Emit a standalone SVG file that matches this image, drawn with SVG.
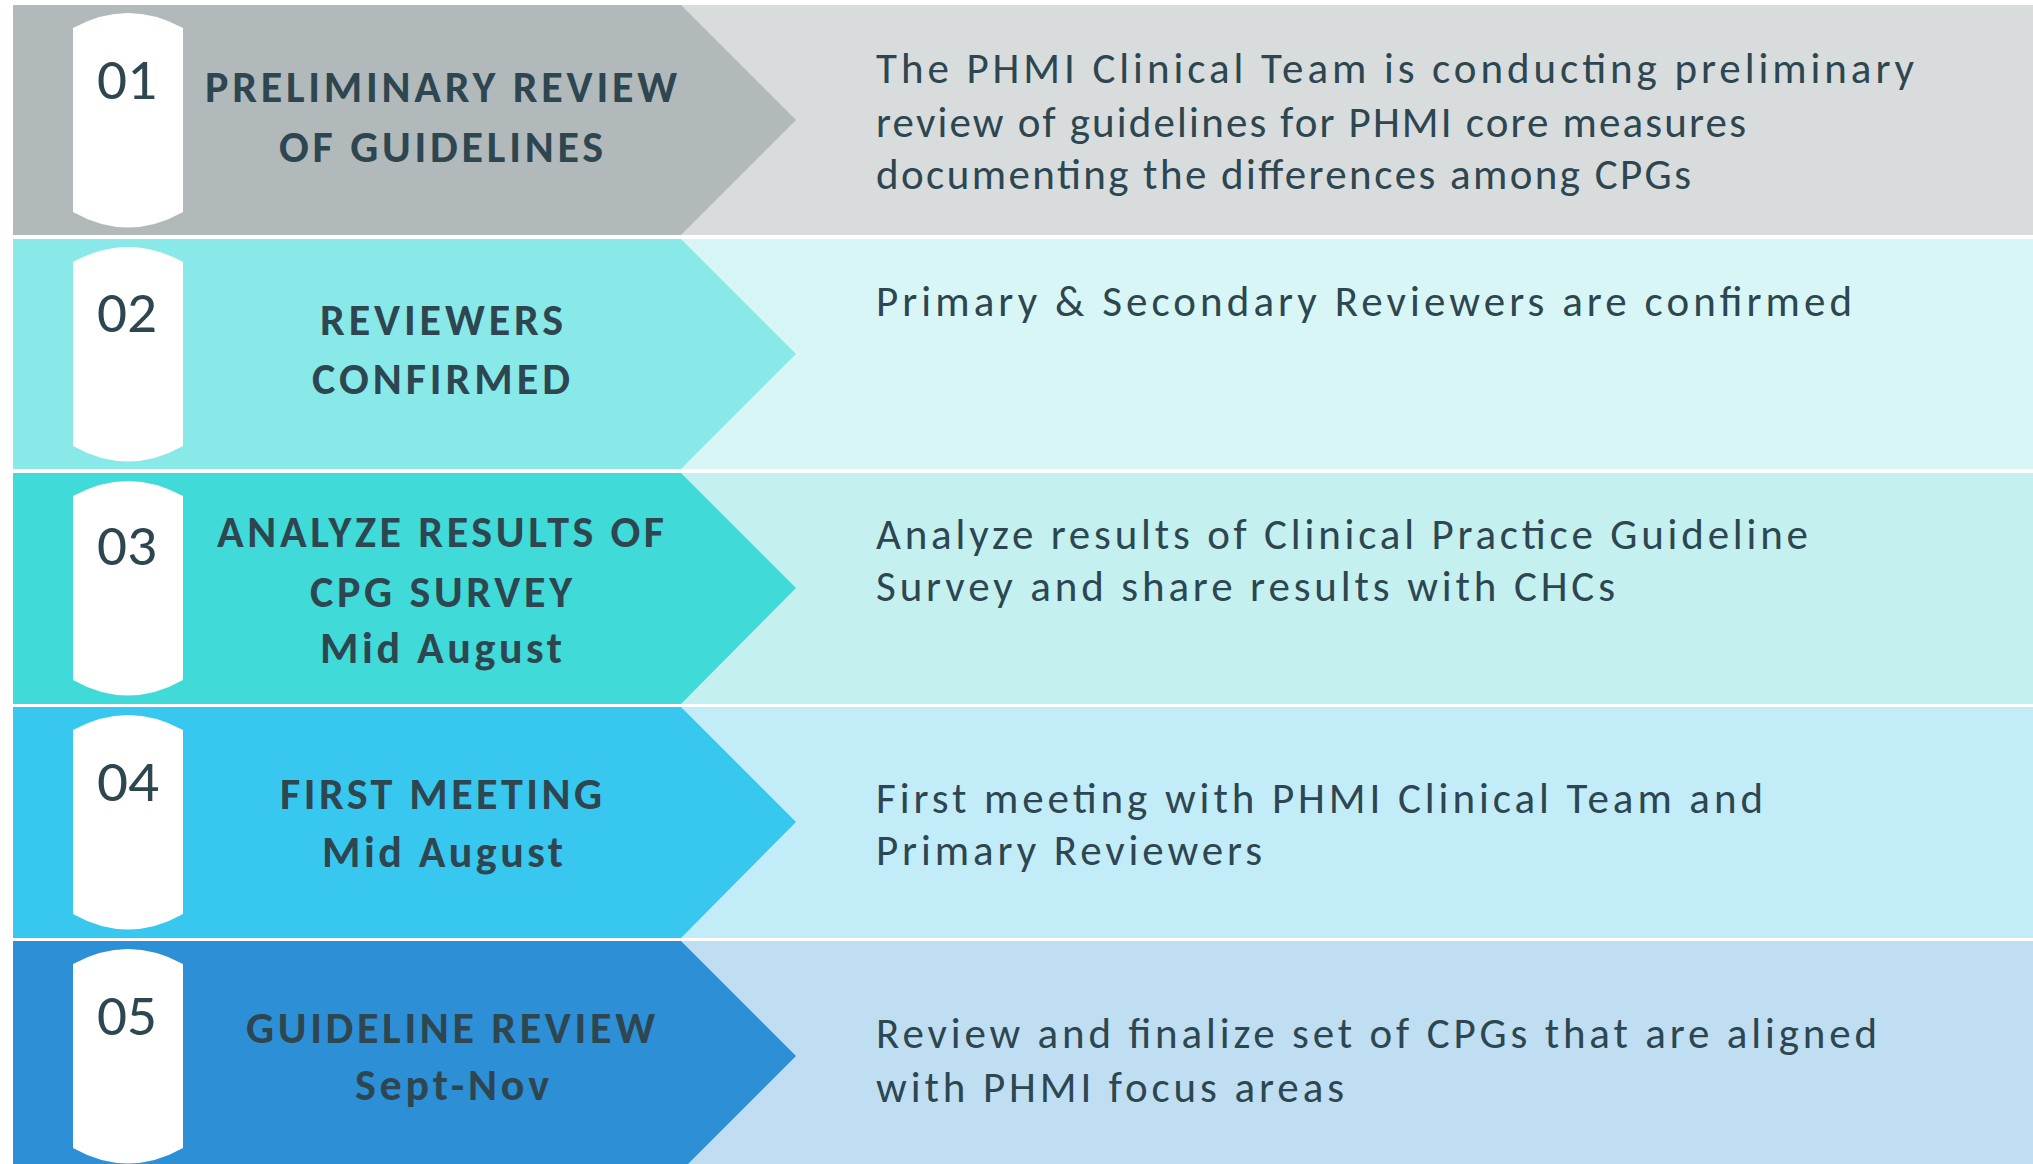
<svg xmlns="http://www.w3.org/2000/svg" width="2033" height="1164" viewBox="0 0 2033 1164">
<style>
.num{font-family:Carlito,Lato,"Open Sans",sans-serif;font-weight:300;font-size:58px;fill:#2d4650}
.ttl{font-family:Carlito,Lato,"Open Sans",sans-serif;font-weight:700;font-size:44px;fill:#2d4650}
.dsc{font-family:Carlito,Lato,"Open Sans",sans-serif;font-weight:400;font-size:43px;fill:#2d4650}
.pill{fill:#ffffff}
</style>
<defs>
<path id="pillShape" d="M73,23 Q128,-7 183,23 L183,207 Q128,238 73,207 Z"/>
</defs>
<rect x="0" y="0" width="2033" height="1164" fill="#ffffff"/>

<g id="step01" transform="translate(0,5)">
<rect x="13" y="0" width="2020" height="230" fill="#d8dcdd"/>
<polygon points="13,0 681,0 796,115 681,230 13,230" fill="#b1b9bb"/>
<use href="#pillShape" class="pill"/>
<text class="num" x="97" y="94" textLength="60" lengthAdjust="spacingAndGlyphs">01</text>
<text class="ttl" x="205" y="97" textLength="472" lengthAdjust="spacing">PRELIMINARY REVIEW</text>
<text class="ttl" x="279" y="157" textLength="324" lengthAdjust="spacing">OF GUIDELINES</text>
<text class="dsc" x="876" y="78" textLength="1038" lengthAdjust="spacing">The PHMI Clinical Team is conducting preliminary</text>
<text class="dsc" x="876" y="132" textLength="870" lengthAdjust="spacing">review of guidelines for PHMI core measures</text>
<text class="dsc" x="876" y="184" textLength="815" lengthAdjust="spacing">documenting the differences among CPGs</text>
</g>

<g id="step02" transform="translate(0,239)">
<rect x="13" y="0" width="2020" height="230" fill="#d9f6f7"/>
<polygon points="13,0 681,0 796,115 681,230 13,230" fill="#88e9e8"/>
<use href="#pillShape" class="pill"/>
<text class="num" x="97" y="93" textLength="60" lengthAdjust="spacingAndGlyphs">02</text>
<text class="ttl" x="320" y="96" textLength="243" lengthAdjust="spacing">REVIEWERS</text>
<text class="ttl" x="312" y="155" textLength="258" lengthAdjust="spacing">CONFIRMED</text>
<text class="dsc" x="876" y="77" textLength="976" lengthAdjust="spacing">Primary &amp; Secondary Reviewers are confirmed</text>
</g>

<g id="step03" transform="translate(0,473)">
<rect x="13" y="0" width="2020" height="231" fill="#c4f0f0"/>
<polygon points="13,0 681,0 796,115 681,231 13,231" fill="#40dad8"/>
<use href="#pillShape" class="pill"/>
<text class="num" x="97" y="92" textLength="60" lengthAdjust="spacingAndGlyphs">03</text>
<text class="ttl" x="217" y="74" textLength="447" lengthAdjust="spacing">ANALYZE RESULTS OF</text>
<text class="ttl" x="310" y="134" textLength="262" lengthAdjust="spacing">CPG SURVEY</text>
<text class="ttl" x="320" y="190" textLength="242" lengthAdjust="spacing">Mid August</text>
<text class="dsc" x="876" y="76" textLength="932" lengthAdjust="spacing">Analyze results of Clinical Practice Guideline</text>
<text class="dsc" x="876" y="128" textLength="739" lengthAdjust="spacing">Survey and share results with CHCs</text>
</g>

<g id="step04" transform="translate(0,707)">
<rect x="13" y="0" width="2020" height="231" fill="#c3ecf9"/>
<polygon points="13,0 681,0 796,115 681,231 13,231" fill="#38c8ef"/>
<use href="#pillShape" class="pill"/>
<text class="num" x="97" y="94" textLength="62" lengthAdjust="spacingAndGlyphs">04</text>
<text class="ttl" x="280" y="102" textLength="322" lengthAdjust="spacing">FIRST MEETING</text>
<text class="ttl" x="322" y="160" textLength="241" lengthAdjust="spacing">Mid August</text>
<text class="dsc" x="876" y="106" textLength="887" lengthAdjust="spacing">First meeting with PHMI Clinical Team and</text>
<text class="dsc" x="876" y="158" textLength="386" lengthAdjust="spacing">Primary Reviewers</text>
</g>

<g id="step05" transform="translate(0,941)">
<rect x="13" y="0" width="2020" height="230" fill="#bfdef2"/>
<polygon points="13,0 681,0 796,115 681,230 13,230" fill="#2d8fd5"/>
<use href="#pillShape" class="pill"/>
<text class="num" x="97" y="94" textLength="60" lengthAdjust="spacingAndGlyphs">05</text>
<text class="ttl" x="246" y="102" textLength="409" lengthAdjust="spacing">GUIDELINE REVIEW</text>
<text class="ttl" x="355" y="159" textLength="194" lengthAdjust="spacing">Sept-Nov</text>
<text class="dsc" x="876" y="107" textLength="1001" lengthAdjust="spacing">Review and finalize set of CPGs that are aligned</text>
<text class="dsc" x="876" y="161" textLength="468" lengthAdjust="spacing">with PHMI focus areas</text>
</g>

<g id="connectors"></g>
</svg>
